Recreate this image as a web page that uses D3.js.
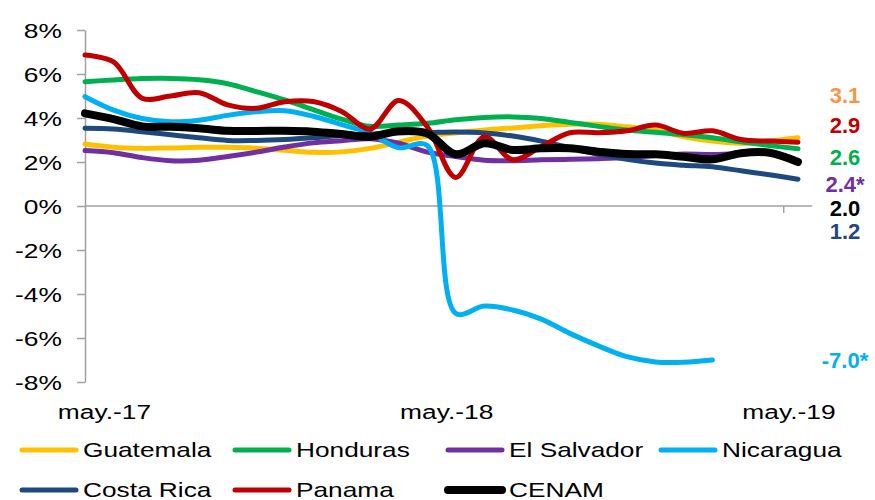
<!DOCTYPE html>
<html>
<head>
<meta charset="utf-8">
<script src="https://cdn.jsdelivr.net/npm/d3@7"></script>
<style>
body { margin: 0; background: #fff; }
text { font-family: "Liberation Sans", Arial, sans-serif; }
</style>
</head>
<body>
<script>
// monthly points, may-17 .. jun-19
const months = ['may.-17', 'jun.-17', 'jul.-17', 'ago.-17', 'sep.-17', 'oct.-17', 'nov.-17', 'dic.-17',
    'ene.-18', 'feb.-18', 'mar.-18', 'abr.-18', 'may.-18', 'jun.-18', 'jul.-18', 'ago.-18', 'sep.-18',
    'oct.-18', 'nov.-18', 'dic.-18', 'ene.-19', 'feb.-19', 'mar.-19', 'abr.-19', 'may.-19', 'jun.-19']
const xLabels = ['may.-17', 'may.-18', 'may.-19']
const yTicks = [-8, -6, -4, -2, 0, 2, 4, 6, 8]

const guatemala = [2.82, 2.67, 2.62, 2.64, 2.67, 2.67, 2.63, 2.53, 2.44, 2.46, 2.62, 2.9, 3.18,
    3.32, 3.45, 3.55, 3.65, 3.72, 3.72, 3.6, 3.45, 3.15, 2.95, 2.85, 2.95, 3.1]
const honduras = [5.65, 5.73, 5.79, 5.8, 5.74, 5.56, 5.2, 4.82, 4.38, 3.95, 3.62, 3.68, 3.76,
    3.92, 4.02, 4.05, 3.98, 3.8, 3.62, 3.45, 3.35, 3.24, 3.1, 2.92, 2.75, 2.6]
const elSalvador = [2.52, 2.42, 2.2, 2.06, 2.08, 2.25, 2.45, 2.68, 2.87, 2.97, 3.06, 2.85, 2.45,
    2.25, 2.08, 2.06, 2.1, 2.12, 2.15, 2.2, 2.3, 2.36, 2.34, 2.38, 2.4]
const nicaragua = [4.97, 4.36, 3.98, 3.83, 3.9, 4.12, 4.28, 4.33, 4.08, 3.7, 3.3, 2.65, 2.75,
    -4.88, -4.55, -4.73, -5.14, -5.79, -6.36, -6.85, -7.09, -7.1, -7.0]
const costaRica = [3.53, 3.5, 3.38, 3.24, 3.1, 2.98, 2.98, 3.02, 3.1, 3.2, 3.27, 3.33, 3.34,
    3.36, 3.32, 3.18, 2.95, 2.65, 2.35, 2.12, 1.95, 1.85, 1.78, 1.6, 1.42, 1.22]
const panama = [6.86, 6.55, 4.9, 5.0, 5.15, 4.6, 4.44, 4.74, 4.75, 4.3, 3.5, 4.8, 3.6,
    1.3, 3.15, 2.1, 2.7, 3.33, 3.33, 3.42, 3.68, 3.3, 3.42, 3.02, 2.95, 2.9]
const cenam = [4.21, 3.95, 3.62, 3.6, 3.53, 3.42, 3.41, 3.42, 3.38, 3.27, 3.15, 3.4, 3.3,
    2.35, 2.85, 2.55, 2.62, 2.62, 2.47, 2.36, 2.35, 2.24, 2.12, 2.4, 2.42, 2.0]

const seriesNames = ['Guatemala', 'Honduras', 'El Salvador', 'Nicaragua', 'Costa Rica', 'Panama', 'CENAM']
const seriesValues = [guatemala, honduras, elSalvador, nicaragua, costaRica, panama, cenam]
const seriesColors = ['#FFC000', '#00B050', '#7030A0', '#00B0F0', '#1F497D', '#C00000', '#000000']

const endLabels = ['3.1', '2.9', '2.6', '2.4*', '2.0', '1.2', '-7.0*']
const endLabelColors = ['#F79646', '#C00000', '#00B050', '#7030A0', '#000000', '#1F497D', '#00B0F0']
const endLabelY = [95, 125, 157, 184, 208, 231, 360]

const width = 875
const height = 500
const axisColor = '#a0a0a0'
const stretch = 1.32

const svg = d3.select('body').append('svg')
    .attr('width', width)
    .attr('height', height)

const x = d3.scaleLinear().domain([0, months.length - 1]).range([85, 798])
const y = d3.scaleLinear().domain([-8, 8]).range([382, 30])

// y axis
const yAxis = svg.append('g')
    .attr('transform', `translate(${x(0)},0)`)
    .call(d3.axisLeft(y).tickValues(yTicks).tickSize(8).tickSizeOuter(0).tickFormat(d => d + '%'))
yAxis.select('.domain').attr('stroke', axisColor).attr('stroke-width', 1.5)
yAxis.selectAll('.tick line').attr('stroke', axisColor).attr('stroke-width', 1.5)
yAxis.selectAll('.tick text')
    .attr('x', 0)
    .attr('dy', '0.35em')
    .attr('transform', `translate(-23,0) scale(${stretch},1)`)
    .attr('font-size', 20)
    .attr('font-family', '"Liberation Sans", Arial, sans-serif')
    .attr('fill', '#000')

// zero line / x axis
svg.append('line')
    .attr('x1', x(0)).attr('x2', x(months.length - 0.5))
    .attr('y1', y(0)).attr('y2', y(0))
    .attr('stroke', axisColor).attr('stroke-width', 1.5)
svg.append('line')
    .attr('x1', x(24.5)).attr('x2', x(24.5))
    .attr('y1', y(0)).attr('y2', y(0) + 7)
    .attr('stroke', axisColor).attr('stroke-width', 1.5)

const xAxis = svg.append('g')
    .attr('transform', 'translate(0,419)')
    .call(d3.axisBottom(x).tickValues(xLabels.map(l => months.indexOf(l))).tickSize(0).tickFormat(i => months[i]))
xAxis.select('.domain').remove()
xAxis.selectAll('.tick text')
    .attr('y', 0)
    .attr('dy', 0)
    .attr('transform', `translate(19,0) scale(${stretch},1)`)
    .attr('font-size', 20)
    .attr('font-family', '"Liberation Sans", Arial, sans-serif')
    .attr('fill', '#000')

// lines
const line = d3.line()
    .x((d, i) => x(i))
    .y(d => y(d))
    .curve(d3.curveCatmullRom.alpha(0.5))

svg.append('g').selectAll('path')
    .data(seriesValues)
    .join('path')
    .attr('d', d => line(d))
    .attr('fill', 'none')
    .attr('stroke', (d, i) => seriesColors[i])
    .attr('stroke-width', (d, i) => seriesNames[i] == 'CENAM' ? 8 : 5)
    .attr('stroke-linecap', 'round')
    .attr('stroke-linejoin', 'round')

// end labels
svg.append('g').selectAll('text')
    .data(endLabels)
    .join('text')
    .attr('x', 845)
    .attr('y', (d, i) => endLabelY[i])
    .attr('dy', '0.35em')
    .attr('text-anchor', 'middle')
    .attr('font-size', 22)
    .attr('font-weight', 'bold')
    .attr('fill', (d, i) => endLabelColors[i])
    .text(d => d)

// legend
const legend = svg.append('g').selectAll('g')
    .data(seriesNames)
    .join('g')
    .attr('transform', (d, i) => `translate(${22 + (i % 4) * 213},${450 + Math.floor(i / 4) * 40})`)
legend.append('line')
    .attr('x1', 0).attr('x2', 54)
    .attr('stroke', (d, i) => seriesColors[i])
    .attr('stroke-width', (d, i) => d == 'CENAM' ? 8 : 5)
    .attr('stroke-linecap', 'round')
legend.append('text')
    .attr('transform', 'translate(61,7) scale(1.25,1)')
    .attr('font-size', 21)
    .attr('fill', '#000')
    .text(d => d)
</script>
</body>
</html>
